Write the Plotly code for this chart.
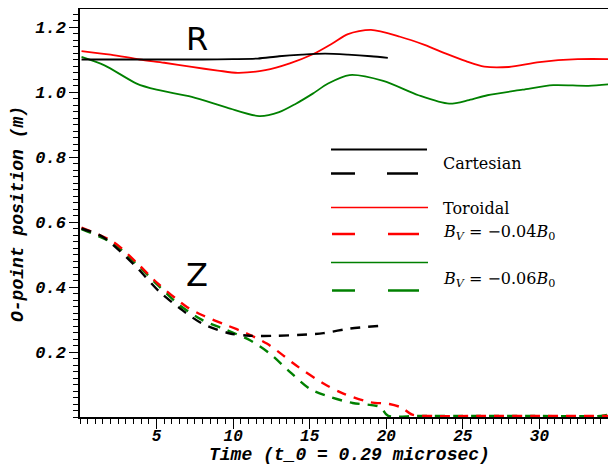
import plotly.graph_objects as go

# ---------------- data ----------------
# R (solid) curves
cart_R_t = [0.1, 2.0, 4.0, 6.0, 8.0, 10.0, 11.6, 13.0, 14.5, 16.0, 17.5, 19.0, 20.1]
cart_R_v = [1.100, 1.100, 1.100, 1.100, 1.100, 1.101, 1.103, 1.110, 1.115, 1.118, 1.115, 1.110, 1.105]

tor04_R_t = [0.1, 2.0, 3.9, 5.5, 7.3, 9.0, 10.3, 12.1, 13.7, 15.2, 16.5, 17.5, 19.0, 20.9, 22.5, 23.9,
             25.2, 26.4, 28.0, 30.0, 32.5, 35.0]
tor04_R_v = [1.126, 1.115, 1.100, 1.090, 1.077, 1.066, 1.059, 1.067, 1.088, 1.116, 1.150, 1.178, 1.191,
             1.170, 1.145, 1.118, 1.095, 1.078, 1.077, 1.092, 1.101, 1.101]

tor06_R_t = [0.1, 1.6, 3.7, 5.0, 7.3, 9.6, 11.7, 13.0, 14.1, 15.2, 16.2, 17.6, 19.8, 22.1, 24.1,
             25.4, 26.6, 28.9, 30.9, 33.2, 35.0]
tor06_R_v = [1.108, 1.082, 1.026, 1.007, 0.985, 0.952, 0.926, 0.938, 0.964, 0.995, 1.026, 1.052,
             1.034, 0.990, 0.964, 0.975, 0.990, 1.007, 1.021, 1.019, 1.026]

# Z (dashed) curves
cart_Z_t = [0.1, 1.5, 3.5, 5.2, 6.7, 8.0, 9.8, 11.1, 12.8, 14.5, 15.9, 17.6, 20.0]
cart_Z_v = [0.580, 0.554, 0.470, 0.385, 0.328, 0.287, 0.257, 0.250, 0.250, 0.253, 0.258, 0.272, 0.282]

tor04_Z_t = [0.1, 2.2, 3.7, 5.1, 7.0, 8.0, 9.6, 10.9, 12.2, 13.2, 14.1, 15.9, 17.2, 18.9, 20.2,
             21.0, 21.7, 23.0, 26.0, 30.0, 35.0]
tor04_Z_v = [0.583, 0.538, 0.475, 0.410, 0.338, 0.313, 0.282, 0.257, 0.226, 0.192, 0.159, 0.103,
             0.072, 0.046, 0.040, 0.029, 0.007, 0.003, 0.003, 0.003, 0.003]

tor06_Z_t = [0.1, 2.2, 3.7, 5.1, 6.5, 8.0, 9.6, 11.1, 12.4, 13.7, 15.0, 16.3, 17.8, 19.6, 20.1,
             22.0, 26.0, 30.0, 34.0, 34.4, 35.0]
tor06_Z_v = [0.578, 0.533, 0.470, 0.405, 0.344, 0.298, 0.267, 0.236, 0.195, 0.139, 0.087, 0.062,
             0.043, 0.031, 0.004, 0.003, 0.003, 0.003, 0.003, 0.006, 0.006]

x_ticks = [5, 10, 15, 20, 25, 30]
y_ticks = [0.2, 0.4, 0.6, 0.8, 1.0, 1.2]
y_tick_text = ["0.2", "0.4", "0.6", "0.8", "1.0", "1.2"]

x_title = "Time (t_0 = 0.29 microsec)"
y_title = "O-point position (m)"

legend_labels = ["Cartesian", "Toroidal",
                 "<i>B</i><sub><i>V</i></sub> = \u22120.04<i>B</i><sub>0</sub>",
                 "<i>B</i><sub><i>V</i></sub> = \u22120.06<i>B</i><sub>0</sub>"]

BLACK, RED, GREEN = "#000000", "#ff0000", "#008000"

# ---------------- figure ----------------
fig = go.Figure()

def add(t, v, color, width, dash=None):
    fig.add_trace(go.Scatter(x=t, y=v, mode="lines",
                             line=dict(color=color, width=width, dash=dash, shape="spline", smoothing=0.8),
                             showlegend=False, hoverinfo="skip"))

add(tor06_R_t, tor06_R_v, GREEN, 1.8)
add(tor04_R_t, tor04_R_v, RED, 1.8)
add(cart_R_t, cart_R_v, BLACK, 1.8)
add(tor06_Z_t, tor06_Z_v, GREEN, 2.4, "10px,8px")
add(tor04_Z_t, tor04_Z_v, RED, 2.4, "10px,8px")
add(cart_Z_t, cart_Z_v, BLACK, 2.4, "10px,8px")

# page body has an 8px margin; plot area on screen: x 80..616, y 9..417
def px(xp):
    return (xp - 80) / 536.0

def py(yp):
    return (417 - yp) / 408.0

shapes = []
def seg(x0, x1, y, color, w):
    shapes.append(dict(type="line", xref="paper", yref="paper",
                       x0=px(x0), x1=px(x1), y0=py(y), y1=py(y),
                       line=dict(color=color, width=w)))

seg(331, 427, 149.5, BLACK, 2)
seg(331, 355, 173.5, BLACK, 2.5)
seg(387, 418, 173.5, BLACK, 2.5)
seg(331, 428, 207.5, RED, 1.6)
seg(332, 355, 234, RED, 2.5)
seg(388, 419, 234, RED, 2.5)
seg(331, 428, 262.5, GREEN, 1.6)
seg(332, 355, 290.5, GREEN, 2.5)
seg(388, 419, 290.5, GREEN, 2.5)

annotations = []
def label(text, x, y):
    annotations.append(dict(text=text, xref="paper", yref="paper", x=px(x), y=py(y),
                            xanchor="left", yanchor="middle", showarrow=False,
                            font=dict(family="DejaVu Serif", size=16, color="black")))

label(legend_labels[0], 441, 163)
label(legend_labels[1], 441, 208)
label(legend_labels[2], 441, 232)
label(legend_labels[3], 441, 279)

annotations.append(dict(text="R", x=7.62, y=1.164, xref="x", yref="y", showarrow=False,
                        font=dict(family="DejaVu Sans", size=32, color="black")))
annotations.append(dict(text="Z", x=7.61, y=0.436, xref="x", yref="y", showarrow=False,
                        font=dict(family="DejaVu Sans", size=32, color="black")))

tick_font = dict(family="Liberation Mono", size=17, color="black", weight="bold", style="italic")
xtick_font = dict(family="Liberation Mono", size=16, color="black", weight="bold", style="italic")
title_font = dict(family="Liberation Mono", size=18, color="black", weight="bold", style="italic")

annotations.append(dict(text=x_title, xref="paper", yref="paper", x=px(349), y=py(455.5),
                        xanchor="center", yanchor="middle", showarrow=False, font=title_font))
annotations.append(dict(text=y_title, xref="paper", yref="paper", x=px(18), y=py(214),
                        xanchor="center", yanchor="middle", showarrow=False, textangle=-90,
                        font=title_font))

fig.update_layout(
    width=608, height=458,
    margin=dict(l=72, r=0, t=1, b=49, autoexpand=False),
    paper_bgcolor="white", plot_bgcolor="white",
    shapes=shapes, annotations=annotations,
    showlegend=False,
)
fig.update_xaxes(
    range=[0, 35], showgrid=False, zeroline=False, automargin=False,
    showline=True, linecolor="black", linewidth=1.5, mirror=True,
    ticks="outside", ticklen=10, tickwidth=1, tickcolor="black",
    tickvals=x_ticks, tickfont=xtick_font, ticklabelstandoff=-7,
    minor=dict(ticks="outside", ticklen=5, tickwidth=1, tickcolor="black", tick0=0, dtick=0.5),
)
fig.update_yaxes(
    range=[0, 1.2554], showgrid=False, zeroline=False, automargin=False,
    showline=True, linecolor="black", linewidth=1.5,
    ticks="outside", ticklen=9, tickwidth=1, tickcolor="black",
    tickvals=y_ticks, ticktext=y_tick_text, tickfont=tick_font,
    minor=dict(ticks="outside", ticklen=5, tickwidth=1, tickcolor="black", tick0=0, dtick=0.02),
)

fig.write_html("out.html")
